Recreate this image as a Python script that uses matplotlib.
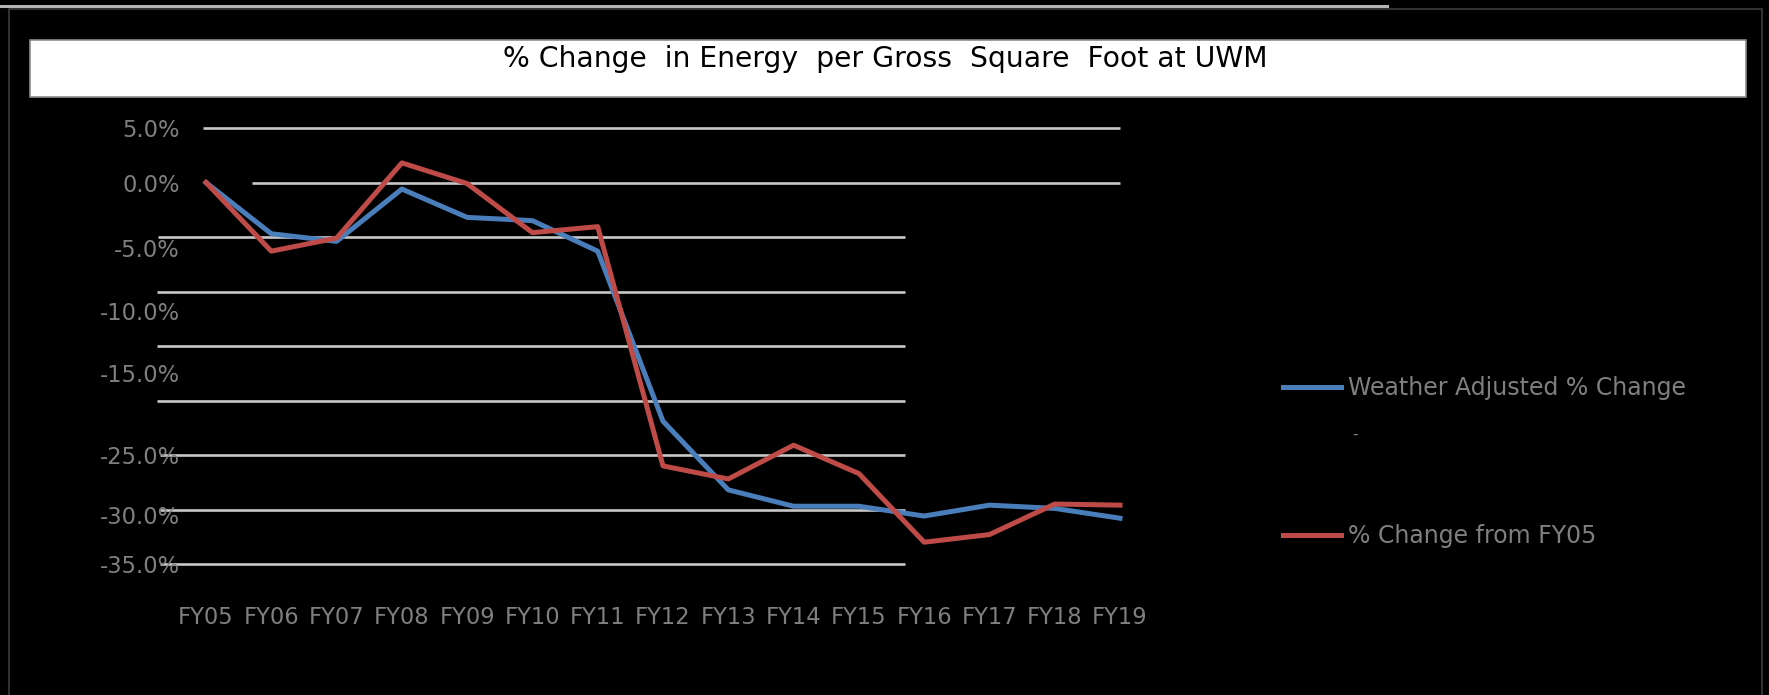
import matplotlib
matplotlib.use("Agg")
import matplotlib.pyplot as plt
from matplotlib.patches import Rectangle
from matplotlib.lines import Line2D
from matplotlib.transforms import ScaledTranslation

# data
years = ['FY05', 'FY06', 'FY07', 'FY08', 'FY09', 'FY10', 'FY11', 'FY12',
         'FY13', 'FY14', 'FY15', 'FY16', 'FY17', 'FY18', 'FY19']
weather_adj = [0.0, -4.7, -5.4, -0.6, -3.2, -3.5, -6.3, -21.9,
               -28.2, -29.7, -29.7, -30.6, -29.6, -29.9, -30.8]
pct_change = [0.0, -6.3, -5.1, 1.8, -0.1, -4.6, -4.05, -26.0,
              -27.2, -24.1, -26.7, -33.0, -32.3, -29.5, -29.6]
ytick_vals = [5, 0, -5, -10, -15, -20, -25, -30, -35]
ytick_labels = ['5.0%', '0.0%', '-5.0%', '-10.0%', '-15.0%', '',
                '-25.0%', '-30.0%', '-35.0%']
series_names = ['Weather Adjusted % Change', '% Change from FY05']
title = '% Change  in Energy  per Gross  Square  Foot at UWM'

# layout (pixels, full size picture)
W, H = 1769, 695
X0, X1 = 206, 1120      # FY05 .. FY19
YTOP, YBOT = 128, 564   # 5% .. -35%
grid_start = [203, 252, 158, 157, 157, 157, 160, 160, 160]
grid_end = [1120, 1120, 905, 905, 905, 905, 905, 905, 905]
label_drop = [0, 0, 11, 19, 27, 0, 0, 6, 0]   # the odd shifted labels

BLUE = '#4a7ebb'
RED = '#be4b48'
GRAY = '#7f7f7f'

fig = plt.figure(figsize=(W / 100, H / 100), dpi=100, facecolor='black')


def fx(px):
    return px / W


def fy(py):
    return 1 - py / H


# frame + top rule + title box
fig.add_artist(Line2D([0, fx(1387)], [fy(6), fy(6)], color='#b4b4b4', lw=2.2))
fig.add_artist(Rectangle((fx(9), fy(720)), fx(1762) - fx(9), fy(9) - fy(720),
                         fill=False, edgecolor='#3c3c3c', lw=1.2))
fig.add_artist(Rectangle((fx(30), fy(97)), fx(1746) - fx(30), fy(40) - fy(97),
                         facecolor='white', edgecolor='#8c8c8c', lw=1.2))
fig.text(fx(885), fy(59), title, ha='center', va='center', fontsize=20.3,
         color='black')

ax = fig.add_axes([fx(X0), fy(YBOT), fx(X1) - fx(X0), fy(YTOP) - fy(YBOT)])
ax.set_facecolor('black')
ax.set_xlim(0, len(years) - 1)
ax.set_ylim(-35, 5)
for s in ax.spines.values():
    s.set_visible(False)

step = (X1 - X0) / (len(years) - 1)
for v, a, b in zip(ytick_vals, grid_start, grid_end):
    ax.hlines(v, (a - X0) / step, (b - X0) / step, color='#c8c8c8', lw=1.9,
              clip_on=False, zorder=1)

xs = range(len(years))
ax.plot(xs, weather_adj, color=BLUE, lw=3.6, label=series_names[0],
        clip_on=False, zorder=3)
ax.plot(xs, pct_change, color=RED, lw=3.6, label=series_names[1],
        clip_on=False, zorder=4)

ax.set_xticks(list(xs))
ax.set_xticklabels(years)
ax.set_yticks(ytick_vals)
ax.set_yticklabels(ytick_labels)
ax.tick_params(axis='both', length=0, colors=GRAY, labelsize=16.3)
ax.tick_params(axis='x', pad=30)
ax.tick_params(axis='y', pad=19)

for lab, d in zip(ax.get_yticklabels(), label_drop):
    lab.set_transform(lab.get_transform() +
                      ScaledTranslation(0, -d / 100, fig.dpi_scale_trans))

leg = fig.legend(loc='upper left', bbox_to_anchor=(fx(1283), fy(376)),
                 frameon=False, fontsize=17, labelcolor=GRAY,
                 handlelength=2.45, handletextpad=0.3, labelspacing=5.25,
                 borderpad=0, borderaxespad=0)
fig.text(fx(1352), fy(434), '-', color=GRAY, fontsize=11, ha='left',
         va='center')

fig.savefig('out.png', dpi=100, facecolor='black')
